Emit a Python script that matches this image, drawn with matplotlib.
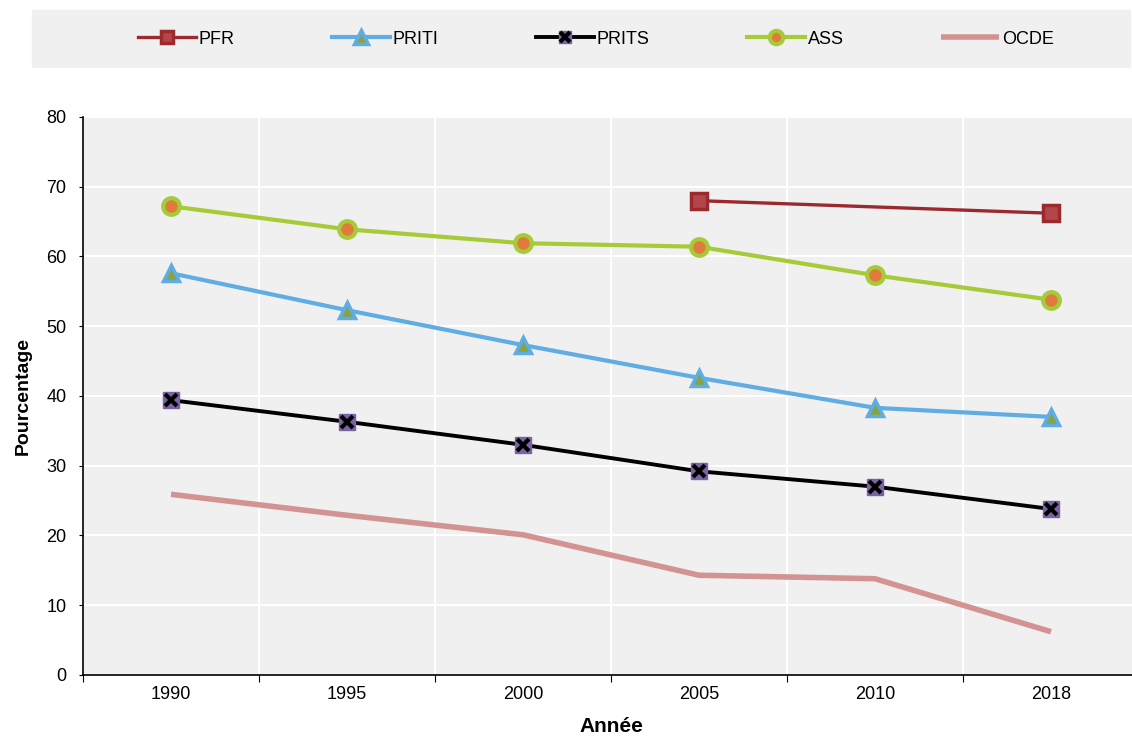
import numpy as np
import matplotlib.pyplot as plt
from matplotlib.patches import Rectangle

plt.rcParams['font.family'] = ['Liberation Sans', 'DejaVu Sans']

years = ["1990", "1995", "2000", "2005", "2010", "2018"]
pfr = [np.nan, np.nan, np.nan, 68.0, np.nan, 66.2]
priti = [57.6, 52.3, 47.3, 42.6, 38.3, 37.0]
prits = [39.4, 36.3, 33.0, 29.2, 27.0, 23.8]
ass = [67.2, 63.9, 61.9, 61.4, 57.3, 53.8]
ocde = [25.9, 22.9, 20.1, 14.3, 13.8, 6.2]

x = np.arange(len(years))
bg = '#f0f0f0'

fig = plt.figure(figsize=(11.32, 7.38), dpi=100)
# axes runs a little past the right edge, like the original
ax = fig.add_axes([83 / 1132, 0.0854, 1056 / 1132, 0.7561])
ax.set_facecolor(bg)

# PFR only has two points -> connect the available ones
m = ~np.isnan(pfr)
h_pfr, = ax.plot(x[m], np.array(pfr)[m], color='#9b2a2f', lw=2.4, marker='s', ms=11,
                 mfc='#b4464b', mec='#9b2a2f', mew=2.5, zorder=5)
h_priti, = ax.plot(x, priti, color='#5fade2', lw=3, marker='^', ms=12,
                   mfc='#86a444', mec='#5fade2', mew=2.5, zorder=4)
h_prits, = ax.plot(x, prits, color='black', lw=2.8, marker='s', ms=11,
                   mfc='#7b62a5', mec='#7b62a5', zorder=4)
h_prits2, = ax.plot(x, prits, ls='none', marker='x', ms=9, mec='black', mew=3, zorder=6)
h_ass, = ax.plot(x, ass, color='#a6cb38', lw=3, marker='o', ms=12,
                 mfc='#e07b3c', mec='#a6cb38', mew=3, zorder=4)
h_ocde, = ax.plot(x, ocde, color='#d39392', lw=4, solid_capstyle='butt', zorder=3)

ax.set_xlim(-0.5, 5.5)
ax.set_ylim(0, 80)
ax.set_yticks(range(0, 81, 10))
ax.set_xticks(np.arange(-0.5, 5.6, 1.0))
ax.set_xticklabels([])
ax.set_xticks(x, minor=True)
ax.set_xticklabels(years, minor=True)
ax.tick_params(axis='x', which='minor', length=0, pad=8, labelsize=13)
ax.tick_params(axis='x', which='major', length=5, direction='out')
ax.tick_params(axis='y', length=3, pad=9, labelsize=13)
ax.grid(True, which='major', color='white', lw=1.5)
ax.set_axisbelow(True)
for s in ['top', 'right']:
    ax.spines[s].set_visible(False)
ax.spines['left'].set_linewidth(1.2)
ax.spines['bottom'].set_linewidth(1.2)

ax.set_xlabel('Année', fontsize=15, fontweight='bold', labelpad=10)
ax.set_ylabel('Pourcentage', fontsize=14, fontweight='bold', labelpad=10)

# legend band on top
fig.patches.append(Rectangle((32 / 1132, 1 - 67 / 738), (1130 - 32) / 1132, 57 / 738,
                             transform=fig.transFigure, color=bg, zorder=0))
fig.legend([h_pfr, h_priti, (h_prits, h_prits2), h_ass, h_ocde],
           ['PFR', 'PRITI', 'PRITS', 'ASS', 'OCDE'],
           loc='center', bbox_to_anchor=(596 / 1132, 1 - 39 / 738), ncol=5, frameon=False,
           fontsize=13, handlelength=3.2, handletextpad=0.15, columnspacing=5.4,
           markerscale=0.8)

fig.savefig('out.png', dpi=100)
